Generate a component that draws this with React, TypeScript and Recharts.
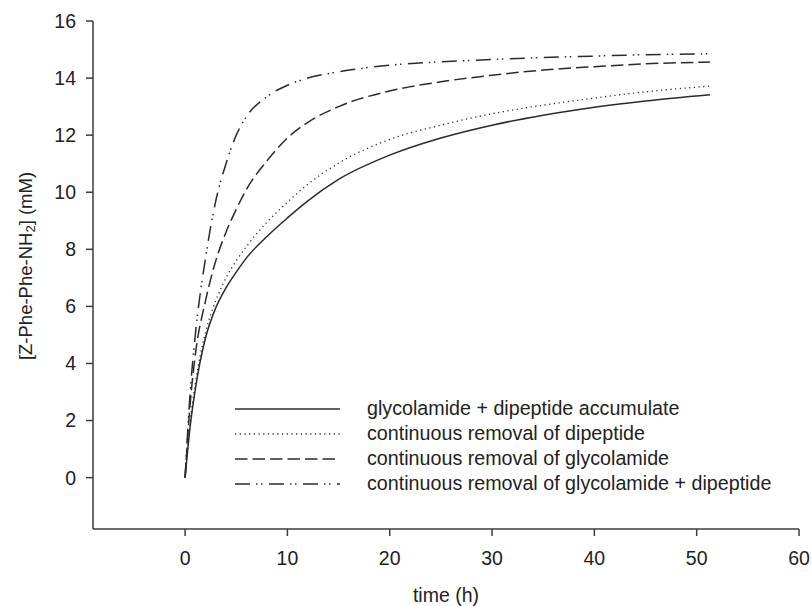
import React from 'react';
import { LineChart, Line, XAxis, YAxis, Legend, Label } from 'recharts';

const times = [0, 0.5, 1, 2, 3, 4, 5, 6, 8, 10, 12, 15, 20, 25, 30, 35, 40, 45, 51.3];
const accumulate = [0, 1.8, 3.1, 4.9, 5.95, 6.65, 7.2, 7.7, 8.45, 9.1, 9.7, 10.45, 11.3, 11.9, 12.35, 12.7, 12.98, 13.2, 13.42];
const removeDipeptide = [0, 1.95, 3.3, 5.1, 6.2, 7.0, 7.6, 8.1, 8.95, 9.65, 10.28, 11.02, 11.85, 12.35, 12.75, 13.05, 13.3, 13.52, 13.72];
const removeGlycolamide = [0, 2.6, 4.3, 6.2, 7.6, 8.6, 9.4, 10.1, 11.1, 11.9, 12.45, 13.0, 13.55, 13.87, 14.1, 14.28, 14.4, 14.5, 14.56];
const removeBoth = [0, 3.0, 5.0, 7.7, 9.7, 11.0, 12.0, 12.65, 13.35, 13.75, 14.0, 14.22, 14.45, 14.57, 14.65, 14.72, 14.77, 14.82, 14.85];

const xTicks = [0, 10, 20, 30, 40, 50, 60];
const yTicks = [0, 2, 4, 6, 8, 10, 12, 14, 16];

const seriesNames = [
  'glycolamide + dipeptide accumulate',
  'continuous removal of dipeptide',
  'continuous removal of glycolamide',
  'continuous removal of glycolamide + dipeptide',
];

const FONT = '"Liberation Sans", Arial, sans-serif';
const INK = '#2b2b2b';
const AXIS = '#3c3c3c';

const series = [
  { key: 'a', name: seriesNames[0], dash: undefined, width: 1.5 },
  { key: 'b', name: seriesNames[1], dash: '1.2 3.5', width: 1.3 },
  { key: 'c', name: seriesNames[2], dash: '12.5 5', width: 1.5 },
  { key: 'd', name: seriesNames[3], dash: '15 6 1.5 3.5 1.5 6.5', width: 1.5 },
];

const data = times.map((t, i) => ({
  t,
  a: accumulate[i],
  b: removeDipeptide[i],
  c: removeGlycolamide[i],
  d: removeBoth[i],
}));

const tickStyle = { fill: '#222', fontSize: 19.5, fontFamily: FONT };

const LegendBox = () => (
  <div style={{ fontFamily: FONT, fontSize: 19.7, color: '#222' }}>
    {series.map((s) => (
      <div key={s.key} style={{ display: 'flex', alignItems: 'center', height: 25 }}>
        <svg width={105} height={10} style={{ marginRight: 27 }}>
          <line x1={0} y1={5} x2={105} y2={5} stroke={INK} strokeWidth={s.width} strokeDasharray={s.dash} />
        </svg>
        <span style={{ whiteSpace: 'nowrap' }}>{s.name}</span>
      </div>
    ))}
  </div>
);

const YTitle = (props: any) => {
  const { viewBox } = props;
  const x = viewBox.x - 8;
  const y = viewBox.y + viewBox.height / 2 - 9;
  return (
    <text
      x={x}
      y={y}
      transform={`rotate(-90, ${x}, ${y})`}
      textAnchor="middle"
      dominantBaseline="central"
      fill="#222"
      fontSize={18.5}
      fontFamily={FONT}
    >
      [Z-Phe-Phe-NH
      <tspan fontSize={13} dy={5}>2</tspan>
      <tspan dy={-5}>] (mM)</tspan>
    </text>
  );
};

const XTitle = (props: any) => {
  const { viewBox } = props;
  return (
    <text
      x={viewBox.x + viewBox.width / 2}
      y={602}
      textAnchor="middle"
      fill="#222"
      fontSize={19.5}
      fontFamily={FONT}
    >
      time (h)
    </text>
  );
};

export default function App() {
  return (
    <div style={{ position: 'absolute', left: 0, top: 0, background: '#fff' }}>
      <LineChart width={812} height={606} data={data} margin={{ top: 21, right: 13, left: 33, bottom: 0 }}>
        <XAxis
          dataKey="t"
          type="number"
          domain={[-9, 60]}
          ticks={xTicks}
          allowDataOverflow
          height={77}
          tickSize={7}
          tickMargin={15}
          tick={tickStyle}
          stroke={AXIS}
          strokeWidth={1.5}
        >
          <Label content={<XTitle />} />
        </XAxis>
        <XAxis xAxisId="top" orientation="top" type="number" domain={[-9, 60]} height={0} tick={false} tickLine={false} stroke={AXIS} strokeWidth={1.5} />
        <YAxis
          type="number"
          domain={[-1.8, 16]}
          ticks={yTicks}
          allowDataOverflow
          width={60}
          tickSize={7}
          tickMargin={10}
          tick={tickStyle}
          stroke={AXIS}
          strokeWidth={1.5}
        >
          <Label content={<YTitle />} />
        </YAxis>
        <YAxis yAxisId="right" orientation="right" type="number" domain={[-1.8, 16]} width={0} tick={false} tickLine={false} stroke={AXIS} strokeWidth={1.5} />
        <Legend
          layout="vertical"
          align="center"
          verticalAlign="middle"
          content={<LegendBox />}
          wrapperStyle={{ left: 235, top: 396, width: 'auto' }}
        />
        {series.map((s) => (
          <Line
            key={s.key}
            dataKey={s.key}
            name={s.name}
            type="monotone"
            stroke={INK}
            strokeWidth={s.width}
            strokeDasharray={s.dash}
            dot={false}
            activeDot={false}
            isAnimationActive={false}
          />
        ))}
      </LineChart>
    </div>
  );
}
